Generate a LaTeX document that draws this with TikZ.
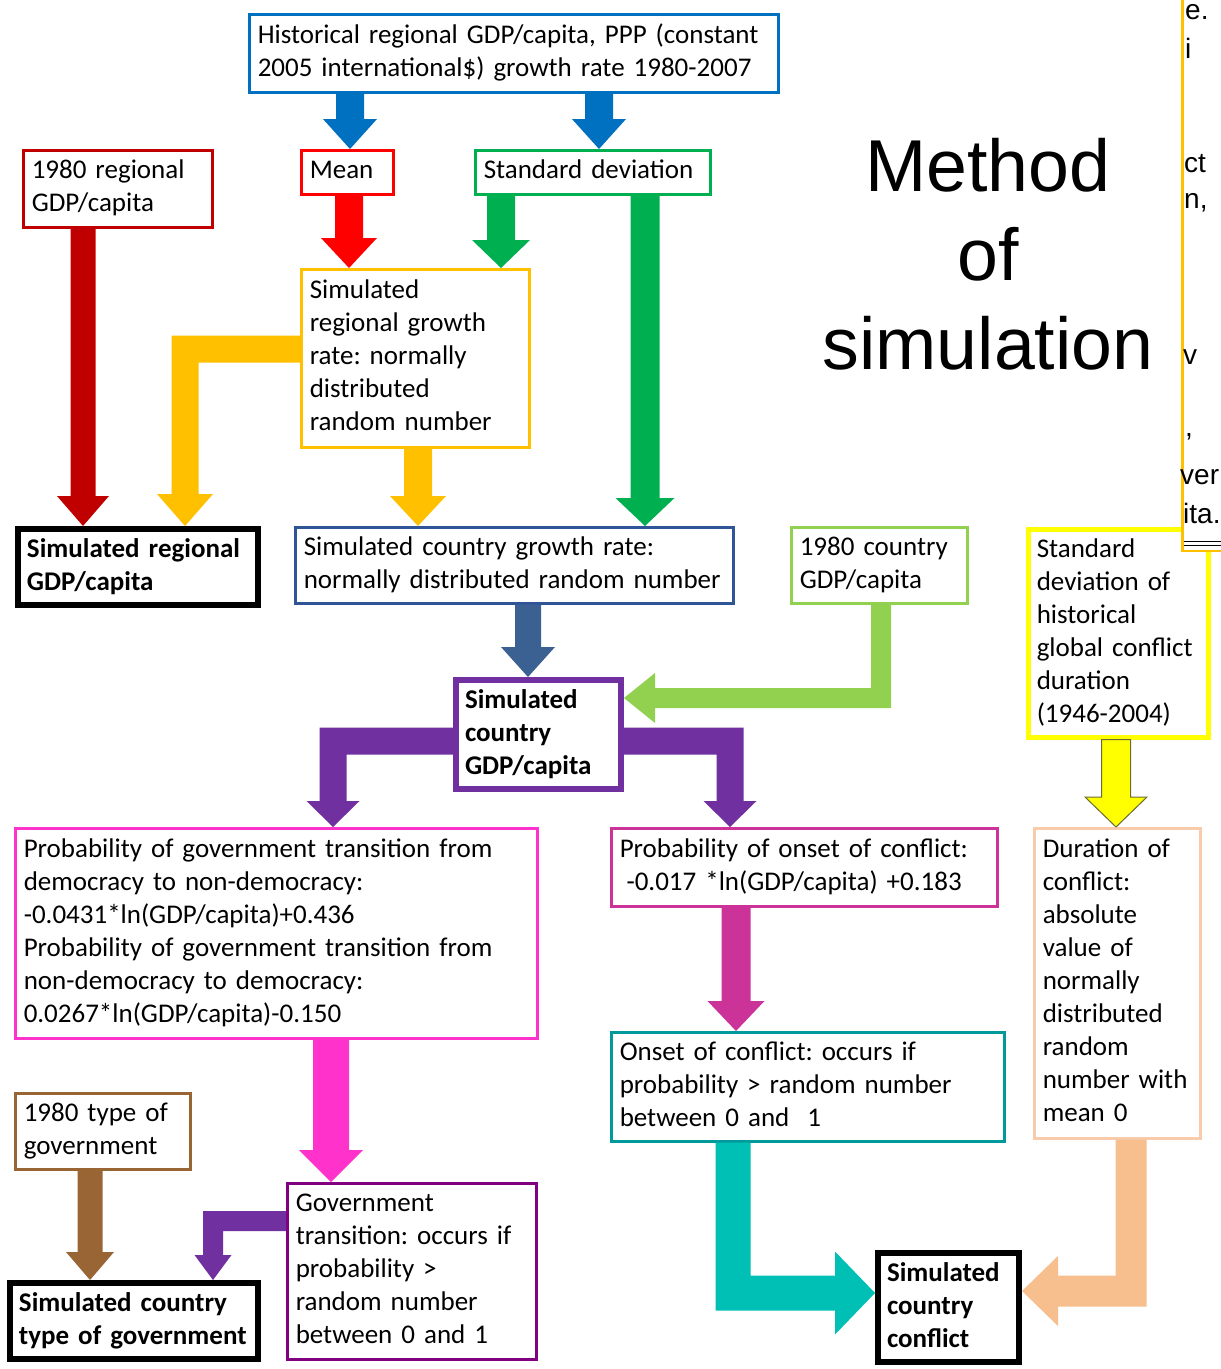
\documentclass[tikz,border=0pt]{standalone}
\usepackage{fontspec}
\setmainfont{Carlito}
\newfontfamily\arialf{Liberation Sans}
\usetikzlibrary{calc}
\frenchspacing

\definecolor{cBlue}{HTML}{0070C0}
\definecolor{cRed}{HTML}{FF0000}
\definecolor{cGreen}{HTML}{00B050}
\definecolor{cDRed}{HTML}{C00000}
\definecolor{cOrange}{HTML}{FFC000}
\definecolor{cSteel}{HTML}{2F5597}
\definecolor{cSteelA}{HTML}{3A6192}
\definecolor{cLGreen}{HTML}{92D050}
\definecolor{cYellow}{HTML}{FFFF00}
\definecolor{cOlive}{HTML}{6B6B30}
\definecolor{cPurple}{HTML}{7030A0}
\definecolor{cMagenta}{HTML}{FF33CC}
\definecolor{cPink}{HTML}{CC3399}
\definecolor{cPeach}{HTML}{F8CBAD}
\definecolor{cPeachA}{HTML}{F7BE8E}
\definecolor{cTealB}{HTML}{009A9A}
\definecolor{cTeal}{HTML}{00BFB5}
\definecolor{cBrown}{HTML}{996633}
\definecolor{cBrownA}{HTML}{9A6534}
\definecolor{cPlum}{HTML}{800080}

\newcommand\bxfont{\fontsize{27}{33}\selectfont\frenchspacing}
\newcommand\lns[1]{\begin{tabular}{@{}l@{}}#1\end{tabular}}

% straight downward block arrow: colour, from, to, half shaft, half head, head length
\newcommand\varrow[6]{\fill[#1] let \p1=(#2), \p2=(#3) in
  (\x1-#4,\y1) -- (\x1+#4,\y1) -- (\x1+#4,\y2+#6) -- (\x1+#5,\y2+#6) -- (\x1,\y2)
  -- (\x1-#5,\y2+#6) -- (\x1-#4,\y2+#6) -- cycle;}
% left then down
\newcommand\ldarrow[6]{\fill[#1] let \p1=(#2), \p2=(#3) in
  (\x1,\y1+#4) -- (\x2-#4,\y1+#4) -- (\x2-#4,\y2+#6) -- (\x2-#5,\y2+#6) -- (\x2,\y2)
  -- (\x2+#5,\y2+#6) -- (\x2+#4,\y2+#6) -- (\x2+#4,\y1-#4) -- (\x1,\y1-#4) -- cycle;}
% right then down
\newcommand\rdarrow[6]{\fill[#1] let \p1=(#2), \p2=(#3) in
  (\x1,\y1+#4) -- (\x2+#4,\y1+#4) -- (\x2+#4,\y2+#6) -- (\x2+#5,\y2+#6) -- (\x2,\y2)
  -- (\x2-#5,\y2+#6) -- (\x2-#4,\y2+#6) -- (\x2-#4,\y1-#4) -- (\x1,\y1-#4) -- cycle;}
% down then left
\newcommand\dlarrow[6]{\fill[#1] let \p1=(#2), \p2=(#3) in
  (\x1-#4,\y1) -- (\x1+#4,\y1) -- (\x1+#4,\y2-#4) -- (\x2+#6,\y2-#4) -- (\x2+#6,\y2-#5)
  -- (\x2,\y2) -- (\x2+#6,\y2+#5) -- (\x2+#6,\y2+#4) -- (\x1-#4,\y2+#4) -- cycle;}
% down then right
\newcommand\drarrow[6]{\fill[#1] let \p1=(#2), \p2=(#3) in
  (\x1+#4,\y1) -- (\x1-#4,\y1) -- (\x1-#4,\y2-#4) -- (\x2-#6,\y2-#4) -- (\x2-#6,\y2-#5)
  -- (\x2,\y2) -- (\x2-#6,\y2+#5) -- (\x2-#6,\y2+#4) -- (\x1+#4,\y2+#4) -- cycle;}

\tikzset{
  bx/.style={draw, fill=white, line width=2.5pt, anchor=north west, inner xsep=8.5pt,
    inner ysep=0pt, font=\bxfont, align=left},
  bbx/.style={bx, line width=6pt, font=\bxfont\bfseries, inner xsep=9pt},
  frag/.style={anchor=west, inner sep=0pt, font=\arialf\fontsize{28}{34}\selectfont}
}

\begin{document}
\begin{tikzpicture}[x=1pt,y=-1pt]
\fill[white] (0,0) rectangle (1221,1369);
\useasboundingbox (0,0) rectangle (1221,1369);

% title
\node[font=\arialf\fontsize{73.5}{89}\selectfont, align=center, inner sep=0pt] (title) at (988,254) {Method\\of\\simulation};

% boxes
\node[bx, draw=cBlue, text width=512pt, minimum height=78pt] (hist) at (248,13)
  {\lns{Historical regional GDP/capita, PPP (constant\\2005 international\$) growth rate 1980-2007}};
\node[bx, draw=cRed, text width=75pt, minimum height=44pt] (mean) at (300,149) {\lns{Mean}};
\node[bx, draw=cGreen, text width=218pt, minimum height=44pt] (sd) at (474,149) {\lns{Standard deviation}};
\node[bx, draw=cDRed, text width=172pt, minimum height=77pt] (reg80) at (22,149) {\lns{1980 regional\\GDP/capita}};
\node[bx, draw=cOrange, text width=211pt, minimum height=178pt] (srg) at (300,268)
  {\lns{Simulated\\regional growth\\rate: normally\\distributed\\random number}};
\node[bbx, draw=black, text width=222pt, minimum height=76pt] (srgdp) at (15,526) {\lns{Simulated regional\\GDP/capita}};
\node[bx, draw=cSteel, text width=421pt, minimum height=76pt] (scg) at (294,526)
  {\lns{Simulated country growth rate:\\normally distributed random number}};
\node[bx, draw=cLGreen, text width=159pt, minimum height=76pt] (c80) at (790,526) {\lns{1980 country\\GDP/capita}};
\node[bx, draw=cYellow, line width=4.5pt, text width=163pt, minimum height=208pt] (sdc) at (1026,527)
  {\lns{Standard\\deviation of\\historical\\global conflict\\duration\\(1946-2004)}};
\node[bbx, draw=cPurple, text width=147pt, minimum height=109pt] (scgdp) at (453,677)
  {\lns{Simulated\\country\\GDP/capita}};
\node[bx, draw=cMagenta, text width=505pt, minimum height=210pt] (govp) at (14,827)
  {\lns{Probability of government transition from\\democracy to non-democracy:\\-0.0431*ln(GDP/capita)+0.436\\Probability of government transition from\\non-democracy to democracy:\\0.0267*ln(GDP/capita)-0.150}};
\node[bx, draw=cPink, text width=369pt, minimum height=78pt] (onp) at (610,827)
  {\lns{Probability of onset of conflict:\\\hspace{0.25em}-0.017 *ln(GDP/capita) +0.183}};
\node[bx, draw=cPeach, text width=149pt, minimum height=310pt] (dur) at (1033,827)
  {\lns{Duration of\\conflict:\\absolute\\value of\\normally\\distributed\\random\\number with\\mean 0}};
\node[bx, draw=cTealB, text width=376pt, minimum height=109pt] (onset) at (610,1031)
  {\lns{Onset of conflict: occurs if\\probability > random number\\between 0 and\ \ 1}};
\node[bx, draw=cBrown, text width=158pt, minimum height=76pt] (gov80) at (14,1092) {\lns{1980 type of\\government}};
\node[bx, draw=cPlum, text width=232pt, minimum height=176pt] (govt) at (286,1182)
  {\lns{Government\\transition: occurs if\\probability >\\random number\\between 0 and 1}};
\node[bbx, draw=black, text width=230pt, minimum height=76pt] (sctg) at (7,1280) {\lns{Simulated country\\type of government}};
\node[bbx, draw=black, text width=123pt, minimum height=109pt] (conf) at (875,1250) {\lns{Simulated\\country\\conflict}};

% clipped text box at the right edge
\begin{scope}
\clip (1180,-1) rectangle (1222,556);
\draw[cOrange, line width=2.5pt, fill=white] (1182.5,-10) rectangle (1240,551);
\node[frag] (f1) at (1185,12) {e.};
\node[frag] (f2) at (1185,48) {i};
\node[frag] (f3) at (1184,164) {ct};
\node[frag] (f4) at (1184,203) {n,};
\node[frag] (f5) at (1183,357) {v};
\node[frag] (f6) at (1185,437) {,};
\node[frag] (f7) at (1180,477) {ver};
\node[frag] (f8) at (1183,513) {ita.};
\draw[line width=1pt] (1184,541) -- (1222,541);
\draw[line width=1pt] (1184,545) -- (1222,545);
\end{scope}

% arrows
\varrow{cBlue}{hist.south -| 350,0}{mean.north -| 350,0}{14pt}{27pt}{30pt}
\varrow{cBlue}{hist.south -| 599,0}{sd.north -| 599,0}{14pt}{27pt}{30pt}
\varrow{cRed}{mean.south -| 349,0}{srg.north -| 349,0}{14pt}{28pt}{30pt}
\varrow{cGreen}{sd.south -| 501,0}{srg.north -| 501,0}{14pt}{29pt}{28pt}
\varrow{cGreen}{sd.south -| 645,0}{scg.north -| 645,0}{14.5pt}{29.5pt}{28pt}
\varrow{cDRed}{reg80.south -| 83,0}{srgdp.north -| 83,0}{12.5pt}{26pt}{30pt}
\ldarrow{cOrange}{srg.west |- 0,349}{srgdp.north -| 185,0}{13.5pt}{28pt}{32pt}
\varrow{cOrange}{srg.south -| 418,0}{scg.north -| 418,0}{14pt}{28pt}{30pt}
\varrow{cSteelA}{scg.south -| 528,0}{scgdp.north -| 528,0}{13pt}{27pt}{30pt}
\dlarrow{cLGreen}{c80.south -| 881,0}{scgdp.east |- 0,698}{10pt}{25pt}{31pt}
\ldarrow{cPurple}{scgdp.west |- 0,741}{govp.north -| 333,0}{13.5pt}{26.5pt}{26pt}
\rdarrow{cPurple}{scgdp.east |- 0,741}{onp.north -| 730,0}{13.5pt}{26.5pt}{26pt}
\varrow{fill=cYellow,draw=cOlive,line width=1pt}{sdc.south -| 1116,0}{dur.north -| 1116,0}{14.5pt}{31pt}{30pt}
\varrow{cPink}{onp.south -| 736,0}{onset.north -| 736,0}{14.5pt}{28.5pt}{30pt}
\varrow{cMagenta}{govp.south -| 331,0}{govt.north -| 331,0}{18pt}{32pt}{32pt}
\varrow{cBrownA}{gov80.south -| 90,0}{sctg.north -| 90,0}{12.5pt}{24pt}{28pt}
\ldarrow{cPurple}{govt.west |- 0,1221}{sctg.north -| 213,0}{10pt}{18.5pt}{25pt}
\drarrow{cTeal}{onset.south -| 733,0}{conf.west |- 0,1293}{17.5pt}{41.5pt}{40pt}
\dlarrow{cPeachA}{dur.south -| 1131,0}{conf.east |- 0,1291}{15.5pt}{35pt}{36pt}
\end{tikzpicture}
\end{document}
